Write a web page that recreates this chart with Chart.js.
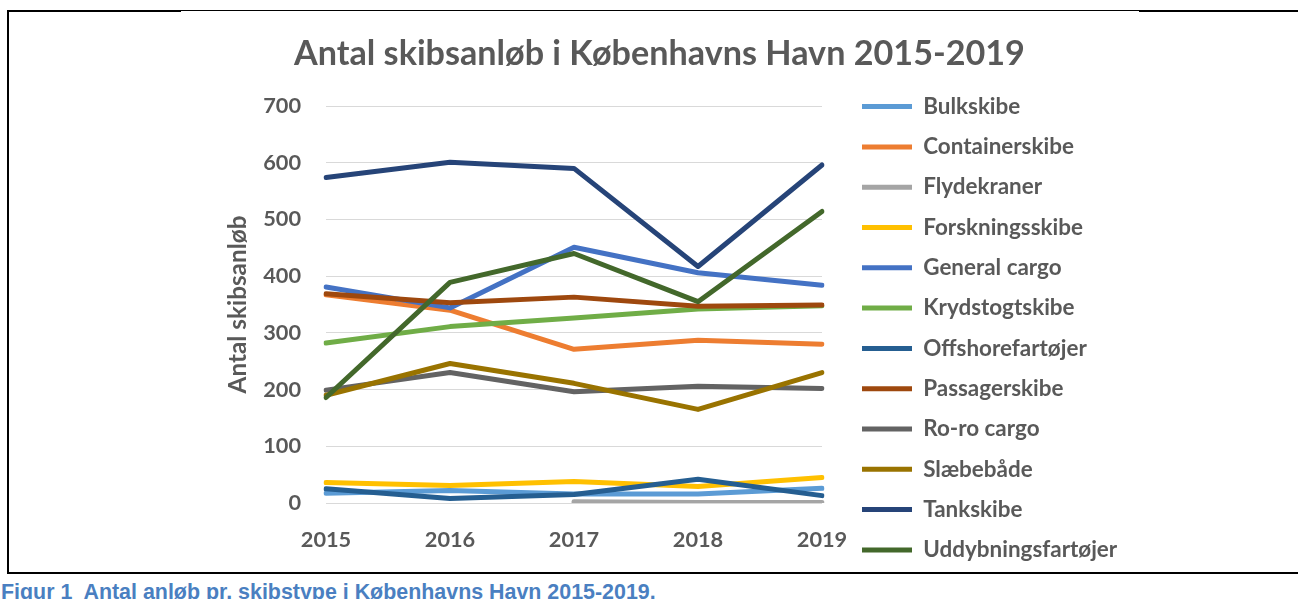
<!DOCTYPE html>
<html><head><meta charset="utf-8">
<script src="https://cdn.jsdelivr.net/npm/chart.js@4.4.1/dist/chart.umd.min.js"></script>
<style>
html,body{margin:0;padding:0;background:#fff;width:1298px;height:599px;overflow:hidden;position:relative;}
canvas{position:absolute;left:0;top:0;}
.ln{position:absolute;background:#000;}
#cap{position:absolute;left:1px;white-space:pre;font-family:"Liberation Sans",Arial,sans-serif;font-weight:bold;color:#4A7FC1;line-height:1;}
</style></head><body>
<div class="ln" style="left:7px;top:10px;width:2px;height:564px"></div>
<div class="ln" style="left:7px;top:10px;width:174px;height:2px"></div>
<div class="ln" style="left:181px;top:10px;width:958px;height:1px"></div>
<div class="ln" style="left:1139px;top:10px;width:159px;height:2px"></div>
<div class="ln" style="left:7px;top:572px;width:1291px;height:2px"></div>
<canvas id="c"></canvas>
<div id="cap">Figur 1  Antal anløb pr. skibstype i Københavns Havn 2015-2019.</div>
<script>
// ---- data ----
const years = ['2015', '2016', '2017', '2018', '2019'];
const yTickValues = [0, 100, 200, 300, 400, 500, 600, 700];
const seriesNames = ['Bulkskibe', 'Containerskibe', 'Flydekraner', 'Forskningsskibe', 'General cargo',
  'Krydstogtskibe', 'Offshorefartøjer', 'Passagerskibe', 'Ro-ro cargo', 'Slæbebåde', 'Tankskibe', 'Uddybningsfartøjer'];
const bulkskibe = [17, 22, 16, 16, 26];
const containerskibe = [367, 340, 271, 287, 280];
const flydekraner = [null, null, 2, 1, 1];
const forskningsskibe = [36, 31, 38, 29, 45];
const generalCargo = [381, 344, 451, 406, 384];
const krydstogtskibe = [282, 311, 326, 342, 348];
const offshorefartoejer = [25, 8, 15, 42, 13];
const passagerskibe = [369, 353, 363, 347, 349];
const roroCargo = [199, 230, 196, 206, 202];
const slaebebaade = [190, 246, 211, 165, 230];
const tankskibe = [574, 601, 590, 417, 596];
const uddybningsfartoejer = [186, 389, 440, 355, 514];
const seriesValues = [bulkskibe, containerskibe, flydekraner, forskningsskibe, generalCargo, krydstogtskibe,
  offshorefartoejer, passagerskibe, roroCargo, slaebebaade, tankskibe, uddybningsfartoejer];

// ---- styles ----
const colors = ['#5B9BD5', '#ED7D31', '#A5A5A5', '#FFC000', '#4472C4', '#70AD47',
  '#255E91', '#9E480E', '#636363', '#997300', '#264478', '#43682B'];
const TITLE = 'Antal skibsanløb i Københavns Havn 2015-2019';
const YTITLE = 'Antal skibsanløb';
const FAM = 'Lato';
const GREY = '#595959';

const mctx = document.createElement('canvas').getContext('2d');
function fit(text, target, family) {
  mctx.font = 'bold 100px ' + family;
  return 100 * target / mctx.measureText(text).width;
}
const titleFs = fit(TITLE, 731, FAM);
const tickFs = fit('2015', 50.5, FAM);
const yTitleFs = fit(YTITLE, 178, FAM);
const legFs = fit('Uddybningsfartøjer', 194, FAM);
const capEl = document.getElementById('cap');
const capFs = fit(capEl.textContent, 656, '"Liberation Sans"');
capEl.style.fontSize = capFs + 'px';
capEl.style.top = (585 - 0.1305 * capFs) + 'px';

const ROW = 40.3;
const legPad = ROW - legFs;
const H = Math.round(107 + 12 * ROW - legFs / 2);
const W = 1298;
const cv = document.getElementById('c');
cv.width = W; cv.height = H;
cv.style.width = W + 'px'; cv.style.height = H + 'px';

const state = {padL: 190, padR: 170, G: 20};

const cfg = {
  type: 'line',
  data: {
    labels: years,
    datasets: seriesNames.map((n, i) => ({
      label: n,
      data: seriesValues[i],
      borderColor: colors[i],
      backgroundColor: colors[i],
      borderWidth: 5,
      borderCapStyle: 'round',
      borderJoinStyle: 'round',
      pointRadius: 0,
      pointHoverRadius: 0,
      tension: 0,
      fill: false,
      spanGaps: false,
      order: -i,
      yAxisID: 'y'
    }))
  },
  options: {
    responsive: false,
    animation: false,
    layout: {padding: {left: state.padL, right: state.padR, top: 0, bottom: 0}},
    scales: {
      x: {
        type: 'category',
        offset: false,
        grid: {display: false, drawTicks: false},
        border: {display: false},
        ticks: {padding: 540 - 503 - 0.6 * tickFs, color: GREY, maxRotation: 0, font: {family: FAM, weight: 'bold', size: tickFs}},
        afterFit(s) { s.height = H - 503; }
      },
      y: {
        position: 'left',
        min: 0, max: 700,
        afterBuildTicks(s) { s.ticks = yTickValues.map(v => ({value: v})); },
        ticks: {padding: 25, color: GREY, font: {family: FAM, weight: 'bold', size: tickFs}},
        grid: {color: '#D9D9D9', lineWidth: 1, drawTicks: false},
        border: {display: false},
        title: {display: true, text: YTITLE, color: GREY, font: {family: FAM, weight: 'bold', size: yTitleFs},
          padding: {top: 238 - state.padL - 0.6 * yTitleFs, bottom: 0}},
        afterFit(s) { s.width = 326 - state.padL; }
      },
      y2: {
        position: 'right',
        display: true,
        grid: {display: false, drawTicks: false},
        border: {display: false},
        ticks: {display: false},
        afterFit(s) { s.width = state.G; }
      }
    },
    plugins: {
      title: {display: true, text: TITLE, color: GREY, font: {family: FAM, weight: 'bold', size: titleFs},
        padding: {top: 54 - 0.6 * titleFs, bottom: 52 - 0.6 * titleFs}},
      legend: {
        position: 'right', align: 'end', maxWidth: 800,
        labels: {
          usePointStyle: true, pointStyle: 'line', pointStyleWidth: 50,
          padding: legPad, color: GREY, font: {family: FAM, weight: 'bold', size: legFs},
          sort: (a, b) => a.datasetIndex - b.datasetIndex
        }
      },
      tooltip: {enabled: false}
    }
  }
};

const chart = new Chart(cv.getContext('2d'), cfg);
// second pass: place legend and chart area precisely
const lw = chart.legend.width;
const legLeft = 862 - legPad;
state.G = legLeft - 822;
state.padR = W - legLeft - lw;
state.padL = state.padR + 21;
chart.options.layout.padding = {left: state.padL, right: state.padR, top: 0, bottom: 0};
chart.options.scales.y.title.padding = {top: 238 - state.padL - 0.6 * yTitleFs, bottom: 0};
chart.update('none');
</script>
</body></html>
